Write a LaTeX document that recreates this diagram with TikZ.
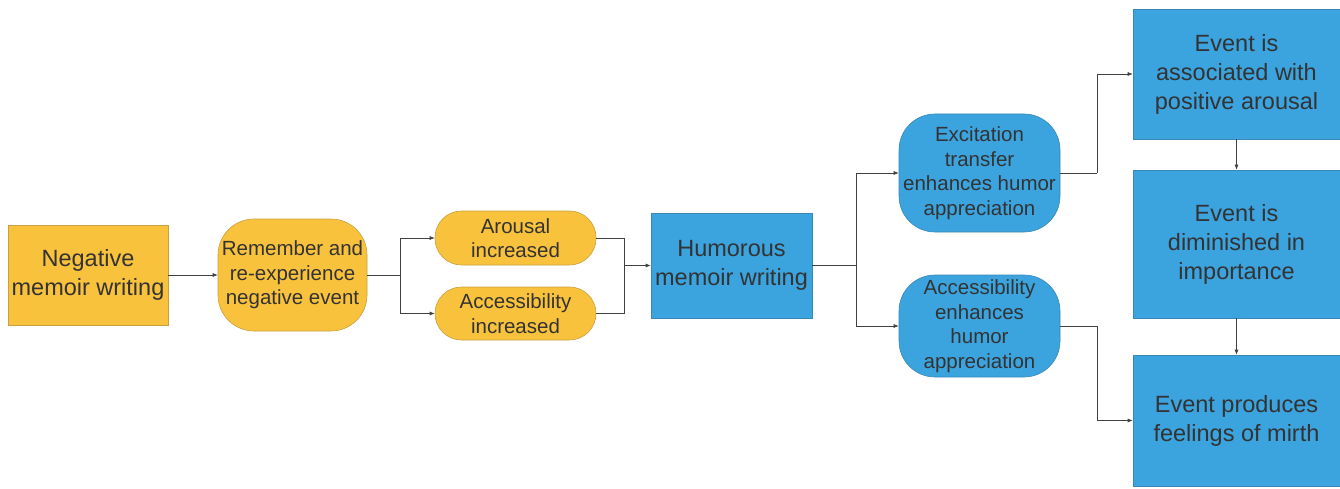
\documentclass[tikz,border=0pt]{standalone}
\usepackage{fontspec}
\setmainfont{Liberation Sans}
\usetikzlibrary{arrows.meta}
\definecolor{memoOrange}{HTML}{F9C23C}
\definecolor{memoOrangeLine}{HTML}{C9A040}
\definecolor{memoBlue}{HTML}{3BA3DD}
\definecolor{memoBlueLine}{HTML}{3A88B8}
\definecolor{memoText}{HTML}{333333}
\newcommand{\bigText}[0]{\fontsize{23.5}{29}\selectfont}
\newcommand{\smallText}[0]{\fontsize{20.5}{24.5}\selectfont}

\begin{document}
\begin{tikzpicture}[x=1pt, y=-1pt]
  \tikzset{every node/.style={align=center,inner sep=0pt,text=memoText},
    bigbox/.style={font=\bigText},
    smallbox/.style={font=\smallText},
    orangebox/.style={draw=memoOrangeLine,fill=memoOrange,line width=0.6pt},
    bluebox/.style={draw=memoBlueLine,fill=memoBlue,line width=0.6pt},
    link/.style={draw=black!75,line width=0.6pt},
    arrowlink/.style={link,-{Latex[length=5pt,width=4pt]}}}
  \useasboundingbox (0,0) rectangle (1340,489);
  % left part
  \node[orangebox,bigbox,minimum width=160pt,minimum height=100pt] (negative) at (88,275)
    {Negative\\memoir writing};
  \node[orangebox,smallbox,rounded corners=36pt,minimum width=149pt,minimum height=112pt] (remember) at (292.5,275)
    {Remember and\\re-experience\\negative event};
  \node[orangebox,smallbox,rounded corners=26.5pt,minimum width=161pt,minimum height=54pt] (arousal) at (515.5,238)
    {Arousal\\increased};
  \node[orangebox,smallbox,rounded corners=26.5pt,minimum width=161pt,minimum height=53pt] (access) at (515.5,313.5)
    {Accessibility\\increased};
  % middle part
  \node[bluebox,bigbox,minimum width=161pt,minimum height=105pt] (humorous) at (731.5,265.5)
    {Humorous\\memoir writing};
  \node[bluebox,smallbox,rounded corners=36pt,minimum width=161pt,minimum height=118pt] (excitation) at (979.5,173)
    {Excitation\\transfer\\enhances humor\\appreciation};
  \node[bluebox,smallbox,rounded corners=36pt,minimum width=161pt,minimum height=102pt] (accenhance) at (979.5,326)
    {Accessibility\\enhances\\humor\\appreciation};
  % right part
  \node[bluebox,bigbox,minimum width=207pt,minimum height=130pt] (associated) at (1236.5,74)
    {Event is\\associated with\\positive arousal};
  \node[bluebox,bigbox,minimum width=207pt,minimum height=148pt] (diminished) at (1236.5,244)
    {Event is\\diminished in\\importance};
  \node[bluebox,bigbox,minimum width=207pt,minimum height=131pt] (mirth) at (1236.5,420.5)
    {Event produces\\feelings of mirth};
  % connectors
  \coordinate (split1) at (400,275);
  \coordinate (join1) at (624,265.5);
  \coordinate (split2) at (856,265.5);
  \coordinate (turn1) at (1097,173);
  \coordinate (turn2) at (1097,326);
  \draw[arrowlink] (negative) -- (remember);
  \draw[link] (remember) -- (split1);
  \draw[arrowlink] (split1) |- (arousal.west);
  \draw[arrowlink] (split1) |- (access.west);
  \draw[link] (arousal.east) -| (join1);
  \draw[link] (access.east) -| (join1);
  \draw[arrowlink] (join1) -- (humorous.west);
  \draw[link] (humorous) -- (split2);
  \draw[arrowlink] (split2) |- (excitation.west);
  \draw[arrowlink] (split2) |- (accenhance.west);
  \draw[link] (excitation.east) -- (turn1);
  \draw[arrowlink] (turn1) |- (associated.west);
  \draw[link] (accenhance.east) -- (turn2);
  \draw[arrowlink] (turn2) |- (mirth.west);
  \draw[arrowlink] (associated) -- (diminished);
  \draw[arrowlink] (diminished) -- (mirth);
\end{tikzpicture}
\end{document}
